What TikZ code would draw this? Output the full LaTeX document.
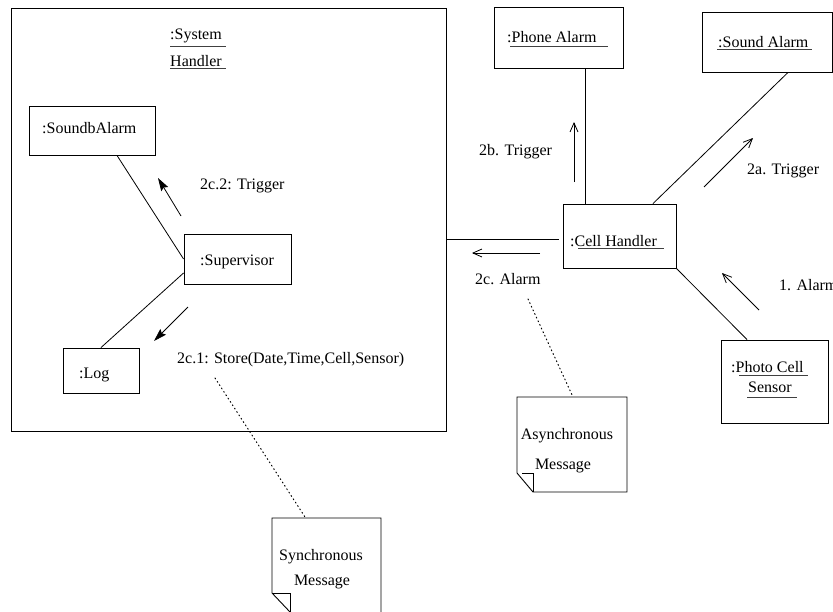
\documentclass[tikz,border=0pt]{standalone}
\usepackage{fontspec}
\setmainfont{Liberation Serif}
\usetikzlibrary{arrows.meta}
\begin{document}
\begin{tikzpicture}[x=1pt,y=-1pt,
  every node/.style={font=\fontsize{16}{19}\selectfont},
  obj/.style={draw, line width=0.9pt, inner sep=0pt},
  txt/.style={inner sep=0pt, anchor=base west},
  ctxt/.style={inner sep=0pt, anchor=base},
  link/.style={line width=0.8pt},
  uline/.style={line width=0.9pt, black!75},
  syncmsg/.style={line width=0.8pt, -{Stealth[length=13pt,width=8pt,inset=2pt]}},
  asyncmsg/.style={line width=0.8pt, -{Straight Barb[length=9pt,width=8pt]}},
  notelink/.style={line width=1pt, dash pattern=on 1pt off 3pt, line cap=round},
  note/.style={line width=0.9pt}]
\useasboundingbox (0,0) rectangle (833,611);

% enclosing composite object
\node[obj, line width=1pt, minimum width=435pt, minimum height=423pt] (sys) at (228.5,219.5) {};
\node[txt] (sysname) at (170,39) {:System};
\node[txt] (sysname2) at (170,66) {Handler};
\draw[uline] (170,46) -- (226,46);
\draw[uline] (170,68) -- (226,68);

% inner objects
\node[obj, minimum width=126pt, minimum height=49pt] (sba) at (92,130.5) {};
\node[txt] (sbat) at (42,133) {:SoundbAlarm};
\node[obj, minimum width=107pt, minimum height=50pt] (sup) at (237.5,259) {};
\node[txt] (supt) at (200,265) {:Supervisor};
\node[obj, minimum width=76pt, minimum height=45pt] (log) at (101,370.5) {};
\node[txt] (logt) at (79,378) {:Log};

% outer objects
\node[obj, minimum width=129pt, minimum height=61pt] (phone) at (558.5,37.5) {};
\node[txt] (phonet) at (507,42) {:Phone Alarm};
\draw[uline] (510,46) -- (608,46);
\node[obj, minimum width=130pt, minimum height=60pt] (sound) at (767,42) {};
\node[txt] (soundt) at (718,47) {:Sound Alarm};
\draw[uline] (717,49.5) -- (812,49.5);
\node[obj, minimum width=113pt, minimum height=64pt] (cell) at (619.5,236) {};
\node[txt] (cellt) at (570,246) {:Cell Handler};
\draw[uline] (578,248.5) -- (664,248.5);
\node[obj, minimum width=107pt, minimum height=83pt] (photo) at (774.5,381.5) {};
\node[txt] (photot) at (731,372) {:Photo Cell};
\node[txt] (photot2) at (748,392) {Sensor};
\draw[uline] (739,375) -- (808,375);
\draw[uline] (747,397) -- (797,397);

% links
\draw[link] ([xshift=25pt]sba.south) -- (sup.west);
\draw[link] (log.north) -- ([yshift=-14pt]sup.west);
\path ([xshift=26.5pt]phone.south) coordinate (pcTop);
\draw[link] (pcTop) -- (pcTop |- cell.north);
\draw[link] ([xshift=33.5pt]cell.north) -- ([xshift=21pt]sound.south);
\path ([xshift=-4pt,yshift=-3pt]cell.west) coordinate (csEnd);
\draw[link] (csEnd) -- (csEnd -| sys.east);
\draw[link] (cell.south east) -- ([xshift=-27.5pt]photo.north);

% synchronous messages
\draw[syncmsg] (181,216) -- (158,178);
\node[txt] (m22) at (200,189) {2c.2: Trigger};
\draw[syncmsg] (188,307) -- (154,341);
\node[txt] (m21) at (177,363) {2c.1: Store(Date,Time,Cell,Sensor)};

% asynchronous messages
\draw[asyncmsg] (574,182) -- (574,122);
\node[txt] (m2b) at (479,155) {2b. Trigger};
\draw[asyncmsg] (704,187) -- (753,138);
\node[txt] (m2a) at (747,174) {2a. Trigger};
\draw[asyncmsg] (540,253) -- (472,253);
\node[txt] (m2c) at (475,284) {2c. Alarm};
\draw[asyncmsg] (759,310) -- (722,273);
\node[txt] (m1) at (779,290) {1. Alarm};

% note: asynchronous message
\draw[note] (517,397) -- (627,397) -- (627,492) -- (533,492) -- (517,473) -- cycle;
\draw[note] (522,473) -- (533,473) -- (533,492);
\node[ctxt] (asyncA) at (567,439) {Asynchronous};
\node[ctxt] (asyncB) at (563,469) {Message};
\coordinate (asyncFrom) at (528,299);
\coordinate (asyncTop) at (573,397);
\draw[notelink] (asyncFrom) -- (asyncTop);

% note: synchronous message
\draw[note] (272,518) -- (381,518) -- (381,620) -- (290,620) -- (290,612) -- (272,593) -- cycle;
\draw[note] (272,593) -- (290,593) -- (290,612);
\node[ctxt] (syncA) at (321,560) {Synchronous};
\node[ctxt] (syncB) at (322,585) {Message};
\coordinate (syncFrom) at (215,378);
\coordinate (syncTop) at (305,517);
\draw[notelink] (syncFrom) -- (syncTop);
\end{tikzpicture}
\end{document}
